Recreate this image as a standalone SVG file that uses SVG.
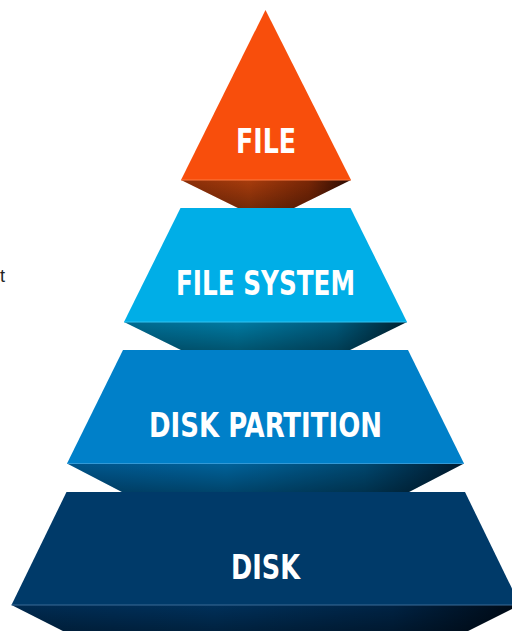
<svg xmlns="http://www.w3.org/2000/svg" width="512" height="631" viewBox="0 0 512 631">
<style>
.lbl{font-family:"DejaVu Sans","Liberation Sans",sans-serif;font-stretch:condensed;font-weight:bold;font-size:33px;fill:#ffffff;text-anchor:middle}
.edge{stroke-width:1;fill:none}
.shade{fill:url(#gShade)}
</style>
<defs>
<linearGradient id="gFile" x1="0" y1="0" x2="1" y2="0">
<stop offset="0" stop-color="#8a2e08"/><stop offset="0.4" stop-color="#a83c0c"/><stop offset="0.75" stop-color="#7a2706"/><stop offset="1" stop-color="#2a0a02"/>
</linearGradient>
<linearGradient id="gFs" x1="0" y1="0" x2="1" y2="0">
<stop offset="0" stop-color="#006a90"/><stop offset="0.4" stop-color="#007aa2"/><stop offset="0.75" stop-color="#005a7c"/><stop offset="1" stop-color="#00202f"/>
</linearGradient>
<linearGradient id="gDp" x1="0" y1="0" x2="1" y2="0">
<stop offset="0" stop-color="#00548a"/><stop offset="0.4" stop-color="#00629a"/><stop offset="0.75" stop-color="#00476f"/><stop offset="1" stop-color="#001a2e"/>
</linearGradient>
<linearGradient id="gDisk" x1="0" y1="0" x2="1" y2="0">
<stop offset="0" stop-color="#002a50"/><stop offset="0.4" stop-color="#00305a"/><stop offset="0.75" stop-color="#002344"/><stop offset="1" stop-color="#000a16"/>
</linearGradient>
<linearGradient id="gShade" x1="0" y1="0" x2="0" y2="1">
<stop offset="0" stop-color="#000000" stop-opacity="0"/><stop offset="1" stop-color="#000000" stop-opacity="0.3"/>
</linearGradient>
</defs>
<rect width="512" height="631" fill="#ffffff"/>
<text x="5" y="282" font-family="Liberation Sans, sans-serif" font-size="18" fill="#222222" text-anchor="end">t</text>

<g id="file">
<path d="M265.5,10 L351,180 L181,180 Z" fill="#f84e0c"/>
<path d="M181,180 L351,180 L294,208 L238,208 Z" fill="url(#gFile)"/>
<path class="shade" d="M181,180 L351,180 L294,208 L238,208 Z"/>
<line class="edge" x1="181" y1="180" x2="351" y2="180" stroke="#ff7a40"/>
<text class="lbl" x="266" y="153" textLength="60" lengthAdjust="spacingAndGlyphs">FILE</text>
</g>

<g id="file-system">
<path d="M180.5,208 L350.5,208 L407,322 L124,322 Z" fill="#00aee7"/>
<path d="M124,322 L407,322 L350,350 L181,350 Z" fill="url(#gFs)"/>
<path class="shade" d="M124,322 L407,322 L350,350 L181,350 Z"/>
<line class="edge" x1="124" y1="322" x2="407" y2="322" stroke="#33c2f0"/>
<text class="lbl" x="265.5" y="295" textLength="179" lengthAdjust="spacingAndGlyphs">FILE SYSTEM</text>
</g>

<g id="disk-partition">
<path d="M123,350 L408,350 L464,463.5 L67,463.5 Z" fill="#0080c9"/>
<path d="M67,463.5 L464,463.5 L409,492 L122,492 Z" fill="url(#gDp)"/>
<path class="shade" d="M67,463.5 L464,463.5 L409,492 L122,492 Z"/>
<line class="edge" x1="67" y1="463.5" x2="464" y2="463.5" stroke="#3399d6"/>
<text class="lbl" x="265.5" y="437" textLength="233" lengthAdjust="spacingAndGlyphs">DISK PARTITION</text>
</g>

<g id="disk">
<path d="M66.5,492 L465,492 L520,605 L11.5,605 Z" fill="#003a69"/>
<path d="M11.5,605 L520,605 L468,631 L63,631 Z" fill="url(#gDisk)"/>
<path class="shade" d="M11.5,605 L520,605 L468,631 L63,631 Z"/>
<line class="edge" x1="11.5" y1="605" x2="520" y2="605" stroke="#3a6a96"/>
<text class="lbl" x="265.5" y="579" textLength="69" lengthAdjust="spacingAndGlyphs">DISK</text>
</g>
</svg>
